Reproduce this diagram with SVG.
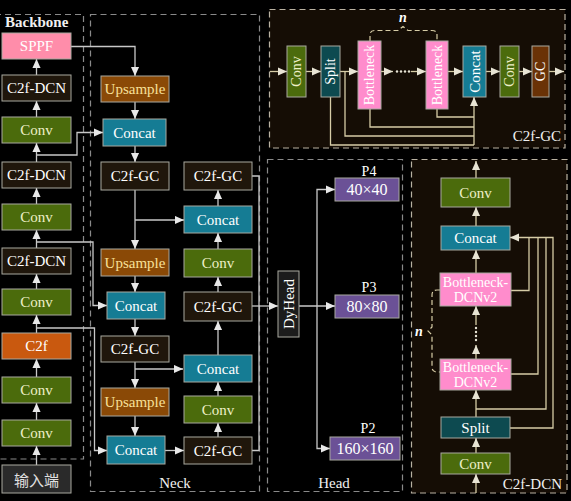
<svg xmlns="http://www.w3.org/2000/svg" width="571" height="501" viewBox="0 0 571 501">
<style>
.bx{stroke:#a9a9a0;stroke-width:1}
.dark{fill:#1f160b}
.green{fill:#4b6b0c}
.teal{fill:#157c94}
.ups{fill:#8a4906}
.orange{fill:#c9590f}
.pink{fill:#ff8daa}
.bpink{fill:#ff8ccc}
.split{fill:#0d4a50}
.gc{fill:#6a3206}
.purple{fill:#6b5196}
text{font-family:'Liberation Serif','Times New Roman',Tinos,'DejaVu Serif',serif}
.t{font-size:15px;fill:#ffffff;text-anchor:middle;dominant-baseline:central}
.s14{font-size:14px}
.s16{font-size:16px}
.cv{fill:#eef0c8}
.ut{fill:#f8e09a}
.lbl{font-size:15px;fill:#f0f0f0}
.panel{fill:none;stroke:#8a8a8a;stroke-width:1.2;stroke-dasharray:6 4}
.bpanel{fill:#150d05;stroke:#b9b2a2;stroke-width:1.2;stroke-dasharray:6 4}
.ln{fill:none;stroke:#c8c8c8;stroke-width:1.3}
.bl{fill:none;stroke:#d6cca6;stroke-width:1.3}
.dash{fill:none;stroke:#d6cca6;stroke-width:1.2;stroke-dasharray:5 3}
</style>
<defs>
<marker id="a" viewBox="0 0 10 10" refX="10" refY="5" markerWidth="9" markerHeight="9" markerUnits="userSpaceOnUse" orient="auto"><path d="M0,0.5 L10,5 L0,9.5 z" fill="#e8e8e8"/></marker>
<marker id="b" viewBox="0 0 10 10" refX="10" refY="5" markerWidth="9" markerHeight="9" markerUnits="userSpaceOnUse" orient="auto"><path d="M0,0.5 L10,5 L0,9.5 z" fill="#e8e4d4"/></marker>
</defs>
<rect x="0" y="0" width="571" height="501" fill="#000"/>

<g id="panels">
<rect class="panel" x="-5" y="14.5" width="88.5" height="444.5"/>
<rect class="panel" x="90.5" y="14.5" width="169" height="477"/>
<rect class="panel" x="267.5" y="159.5" width="135" height="332"/>
<rect class="bpanel" x="269.5" y="9.5" width="295.5" height="138.5"/>
<rect class="bpanel" x="411.5" y="159.5" width="155.5" height="333.5"/>
<text class="lbl" x="5" y="27" style="font-weight:bold">Backbone</text>
<text class="lbl" x="175" y="488" text-anchor="middle">Neck</text>
<text class="lbl" x="334" y="488" text-anchor="middle">Head</text>
<text class="lbl" x="561" y="141" text-anchor="end">C2f-GC</text>
<text class="lbl" x="562" y="489" text-anchor="end">C2f-DCN</text>
</g>

<g id="connectors">
<path class="ln" marker-end="url(#a)" d="M36.5,75 V59"/>
<path class="ln" marker-end="url(#a)" d="M36.5,117 V101"/>
<path class="ln" marker-end="url(#a)" d="M36.5,162 V143"/>
<path class="ln" marker-end="url(#a)" d="M36.5,204 V188"/>
<path class="ln" marker-end="url(#a)" d="M36.5,248 V230"/>
<path class="ln" marker-end="url(#a)" d="M36.5,289 V274"/>
<path class="ln" marker-end="url(#a)" d="M36.5,333 V315"/>
<path class="ln" marker-end="url(#a)" d="M36.5,377 V359"/>
<path class="ln" marker-end="url(#a)" d="M36.5,420 V403"/>
<path class="ln" marker-end="url(#a)" d="M36.5,465 V446"/>
<path class="ln" marker-end="url(#a)" d="M71,46.5 H135 V76"/>
<path class="ln" marker-end="url(#a)" d="M135,102 V119"/>
<path class="ln" marker-end="url(#a)" d="M36.5,155 H77 V132.5 H103"/>
<path class="ln" marker-end="url(#a)" d="M135,146 V162"/>
<path class="ln" marker-end="url(#a)" d="M135,190 V249"/>
<path class="ln" marker-end="url(#a)" d="M135,220 H184"/>
<path class="ln" marker-end="url(#a)" d="M135,276 V292"/>
<path class="ln" marker-end="url(#a)" d="M36.5,242 H93 V305.5 H107"/>
<path class="ln" marker-end="url(#a)" d="M135,319 V336"/>
<path class="ln" marker-end="url(#a)" d="M135,362 V388"/>
<path class="ln" marker-end="url(#a)" d="M135,369 H183"/>
<path class="ln" marker-end="url(#a)" d="M135,416 V436"/>
<path class="ln" marker-end="url(#a)" d="M36.5,328 H94.5 V450.5 H107"/>
<path class="ln" marker-end="url(#a)" d="M165,450.5 H184"/>
<path class="ln" marker-end="url(#a)" d="M218,437 V423"/>
<path class="ln" marker-end="url(#a)" d="M218,396 V382"/>
<path class="ln" marker-end="url(#a)" d="M218,355 V321"/>
<path class="ln" marker-end="url(#a)" d="M218,292 V277"/>
<path class="ln" marker-end="url(#a)" d="M218,249 V233"/>
<path class="ln" marker-end="url(#a)" d="M218,206 V190"/>
<path class="ln" d="M252,176 H259 V450.5 H252"/>
<path class="ln" marker-end="url(#a)" d="M252,306 H278"/>
<path class="ln" marker-end="url(#a)" d="M299,306 H335"/>
<path class="ln" marker-end="url(#a)" d="M317,306 V189.5 H335"/>
<path class="ln" marker-end="url(#a)" d="M317,306 V448.5 H330"/>
<path class="bl" marker-end="url(#b)" d="M270,71.5 H287"/>
<path class="bl" marker-end="url(#b)" d="M306,71.5 H321"/>
<path class="bl" marker-end="url(#b)" d="M340,71.5 H358"/>
<path class="bl" marker-end="url(#b)" d="M381,71.5 H393"/>
<g fill="#e8e4d4"><circle cx="397" cy="71.5" r="1.2"/><circle cx="401" cy="71.5" r="1.2"/><circle cx="405" cy="71.5" r="1.2"/><circle cx="409" cy="71.5" r="1.2"/></g>
<path class="bl" marker-end="url(#b)" d="M411,71.5 H426"/>
<path class="bl" marker-end="url(#b)" d="M448,71.5 H463"/>
<path class="bl" marker-end="url(#b)" d="M486,71.5 H500"/>
<path class="bl" marker-end="url(#b)" d="M519,71.5 H532"/>
<path class="bl" marker-end="url(#b)" d="M549,71.5 H564"/>
<path class="bl" d="M330.5,97 V145 H474"/>
<path class="bl" d="M345,71.5 V136 H474"/>
<path class="bl" d="M370,109 V127 H474"/>
<path class="bl" d="M437,109 V117 H474"/>
<path class="bl" marker-end="url(#b)" d="M474,145 V97"/>
<path class="dash" d="M370,41 V35 Q370,30.5 375,30.5 H398 L403,26.5 L408,30.5 H432 Q437,30.5 437,35 V41"/>
<path class="bl" marker-end="url(#b)" d="M476,493 V474"/>
<path class="bl" marker-end="url(#b)" d="M476,453 V438"/>
<path class="bl" marker-end="url(#b)" d="M476,417 V390"/>
<path class="bl" marker-end="url(#b)" d="M476,359 V345"/>
<g fill="#e8e4d4"><circle cx="476" cy="340" r="1.2"/><circle cx="476" cy="336" r="1.2"/><circle cx="476" cy="332" r="1.2"/><circle cx="476" cy="328" r="1.2"/></g>
<path class="bl" marker-end="url(#b)" d="M476,325 V306"/>
<path class="bl" marker-end="url(#b)" d="M476,273 V250"/>
<path class="bl" marker-end="url(#b)" d="M476,226 V207"/>
<path class="bl" marker-end="url(#b)" d="M476,178 V161"/>
<path class="bl" d="M511,290.5 H529 V237.5"/>
<path class="bl" d="M511,374 H538 V237.5"/>
<path class="bl" d="M476,409 H546 V237.5"/>
<path class="bl" marker-end="url(#b)" d="M510,428 H553 V237.5 H510"/>
<path class="dash" d="M440,290 H437 Q432,290 432,295 V327 L428,331 L432,335 V367 Q432,372 437,372 H441"/>
</g>

<g id="backbone">
<g id="sppf"><rect class="bx pink" x="2" y="33" width="69" height="26"/><text class="t" x="36.5" y="46">SPPF</text></g>
<g id="bb-c2fdcn3"><rect class="bx dark" x="2" y="75" width="69" height="26"/><text class="t" x="36.5" y="88">C2f-DCN</text></g>
<g id="bb-conv4"><rect class="bx green" x="2" y="117" width="69" height="26"/><text class="t cv" x="36.5" y="130">Conv</text></g>
<g id="bb-c2fdcn2"><rect class="bx dark" x="2" y="162" width="69" height="26"/><text class="t" x="36.5" y="175">C2f-DCN</text></g>
<g id="bb-conv3"><rect class="bx green" x="2" y="204" width="69" height="26"/><text class="t cv" x="36.5" y="217">Conv</text></g>
<g id="bb-c2fdcn1"><rect class="bx dark" x="2" y="248" width="69" height="26"/><text class="t" x="36.5" y="261">C2f-DCN</text></g>
<g id="bb-conv2"><rect class="bx green" x="2" y="289" width="69" height="26"/><text class="t cv" x="36.5" y="302">Conv</text></g>
<g id="bb-c2f"><rect class="bx orange" x="2" y="333" width="69" height="26"/><text class="t" x="36.5" y="346">C2f</text></g>
<g id="bb-conv1"><rect class="bx green" x="2" y="377" width="69" height="26"/><text class="t cv" x="36.5" y="390">Conv</text></g>
<g id="bb-conv0"><rect class="bx green" x="2" y="420" width="69" height="26"/><text class="t cv" x="36.5" y="433">Conv</text></g>
<g id="input"><rect class="bx" fill="#2a2a2a" stroke="#8a8a8a" x="2" y="465" width="69" height="28"/><text class="t" x="36.5" y="479" style="font-family:'Noto Sans CJK SC','Liberation Serif',sans-serif;fill:#e0e0e0">输入端</text></g>
</g>

<g id="neck">
<g id="n-ups1"><rect class="bx ups" x="101" y="76" width="68" height="26"/><text class="t ut" x="135" y="89">Upsample</text></g>
<g id="n-cat1"><rect class="bx teal" x="103" y="119" width="63" height="27"/><text class="t" x="134.5" y="132.5">Concat</text></g>
<g id="n-gc1"><rect class="bx dark" x="101" y="162" width="68" height="28"/><text class="t" x="135" y="176">C2f-GC</text></g>
<g id="n-ups2"><rect class="bx ups" x="101" y="249" width="68" height="27"/><text class="t ut" x="135" y="262.5">Upsample</text></g>
<g id="n-cat2"><rect class="bx teal" x="107" y="292" width="58" height="27"/><text class="t" x="136" y="305.5">Concat</text></g>
<g id="n-gc2"><rect class="bx dark" x="101" y="336" width="68" height="26"/><text class="t" x="135" y="349">C2f-GC</text></g>
<g id="n-ups3"><rect class="bx ups" x="101" y="388" width="68" height="28"/><text class="t ut" x="135" y="402">Upsample</text></g>
<g id="n-cat3"><rect class="bx teal" x="107" y="436" width="58" height="28"/><text class="t" x="136" y="450">Concat</text></g>
<g id="n-gc3"><rect class="bx dark" x="184" y="437" width="68" height="27"/><text class="t" x="218" y="450.5">C2f-GC</text></g>
<g id="n-conv1"><rect class="bx green" x="184" y="396" width="68" height="27"/><text class="t cv" x="218" y="409.5">Conv</text></g>
<g id="n-cat4"><rect class="bx teal" x="184" y="355" width="68" height="27"/><text class="t" x="218" y="368.5">Concat</text></g>
<g id="n-gc4"><rect class="bx dark" x="184" y="292" width="68" height="29"/><text class="t" x="218" y="306.5">C2f-GC</text></g>
<g id="n-conv2"><rect class="bx green" x="184" y="249" width="68" height="28"/><text class="t cv" x="218" y="263">Conv</text></g>
<g id="n-cat5"><rect class="bx teal" x="184" y="206" width="68" height="27"/><text class="t" x="218" y="219.5">Concat</text></g>
<g id="n-gc5"><rect class="bx dark" x="184" y="162" width="68" height="28"/><text class="t" x="218" y="176">C2f-GC</text></g>
</g>

<g id="head">
<g id="dyhead"><rect class="bx" fill="#1c1c1c" stroke="#b0b0b0" x="278" y="271" width="21" height="66"/><text class="t" x="288.5" y="304" transform="rotate(-90 288.5 304)">DyHead</text></g>
<g id="p4"><text class="t s14" x="369" y="171">P4</text><rect class="bx purple" x="335" y="178" width="64" height="23"/><text class="t s16" x="367" y="189.5">40×40</text></g>
<g id="p3"><text class="t s14" x="369" y="287">P3</text><rect class="bx purple" x="335" y="295" width="64" height="23"/><text class="t s16" x="367" y="306.5">80×80</text></g>
<g id="p2"><text class="t s14" x="368" y="428">P2</text><rect class="bx purple" x="330" y="437" width="70" height="23"/><text class="t s16" x="365" y="448.5">160×160</text></g>
</g>

<g id="c2f-gc">
<g id="gc-conv1"><rect class="bx green" x="287" y="46" width="19" height="51"/><text class="t s14 cv" x="296.5" y="71.5" transform="rotate(-90 296.5 71.5)">Conv</text></g>
<g id="gc-split"><rect class="bx split" x="321" y="46" width="19" height="51"/><text class="t s14" x="330.5" y="71.5" transform="rotate(-90 330.5 71.5)">Split</text></g>
<g id="gc-b1"><rect class="bx bpink" x="358" y="41" width="23" height="68"/><text class="t s14" x="369.5" y="75" transform="rotate(-90 369.5 75)">Bottleneck</text></g>
<g id="gc-b2"><rect class="bx bpink" x="426" y="41" width="22" height="68"/><text class="t s14" x="437" y="75" transform="rotate(-90 437 75)">Bottleneck</text></g>
<g id="gc-cat"><rect class="bx teal" x="463" y="46" width="23" height="51"/><text class="t" x="474.5" y="71.5" transform="rotate(-90 474.5 71.5)">Concat</text></g>
<g id="gc-conv2"><rect class="bx green" x="500" y="46" width="19" height="51"/><text class="t s14 cv" x="509.5" y="71.5" transform="rotate(-90 509.5 71.5)">Conv</text></g>
<g id="gc-gc"><rect class="bx gc" x="532" y="46" width="17" height="51"/><text class="t s14" x="540.5" y="71.5" transform="rotate(-90 540.5 71.5)">GC</text></g>
<text class="t s14" x="403" y="17" style="font-style:italic;font-weight:bold">n</text>
</g>

<g id="c2f-dcn">
<g id="dcn-conv2"><rect class="bx green" x="441" y="178" width="69" height="29"/><text class="t cv" x="475.5" y="192.5">Conv</text></g>
<g id="dcn-cat"><rect class="bx teal" x="441" y="226" width="69" height="24"/><text class="t" x="475.5" y="238">Concat</text></g>
<g id="dcn-b2"><rect class="bx bpink" x="440" y="273" width="71" height="33"/><text class="t s14" x="475.5" y="282">Bottleneck-</text><text class="t s14" x="475.5" y="297">DCNv2</text></g>
<g id="dcn-b1"><rect class="bx bpink" x="440" y="359" width="71" height="31"/><text class="t s14" x="475.5" y="367.5">Bottleneck-</text><text class="t s14" x="475.5" y="382">DCNv2</text></g>
<g id="dcn-split"><rect class="bx split" x="441" y="417" width="69" height="21"/><text class="t" x="475.5" y="427.5">Split</text></g>
<g id="dcn-conv1"><rect class="bx green" x="441" y="453" width="69" height="21"/><text class="t cv" x="475.5" y="463.5">Conv</text></g>
<text class="t s14" x="419" y="331" style="font-style:italic;font-weight:bold">n</text>
</g>
</svg>
